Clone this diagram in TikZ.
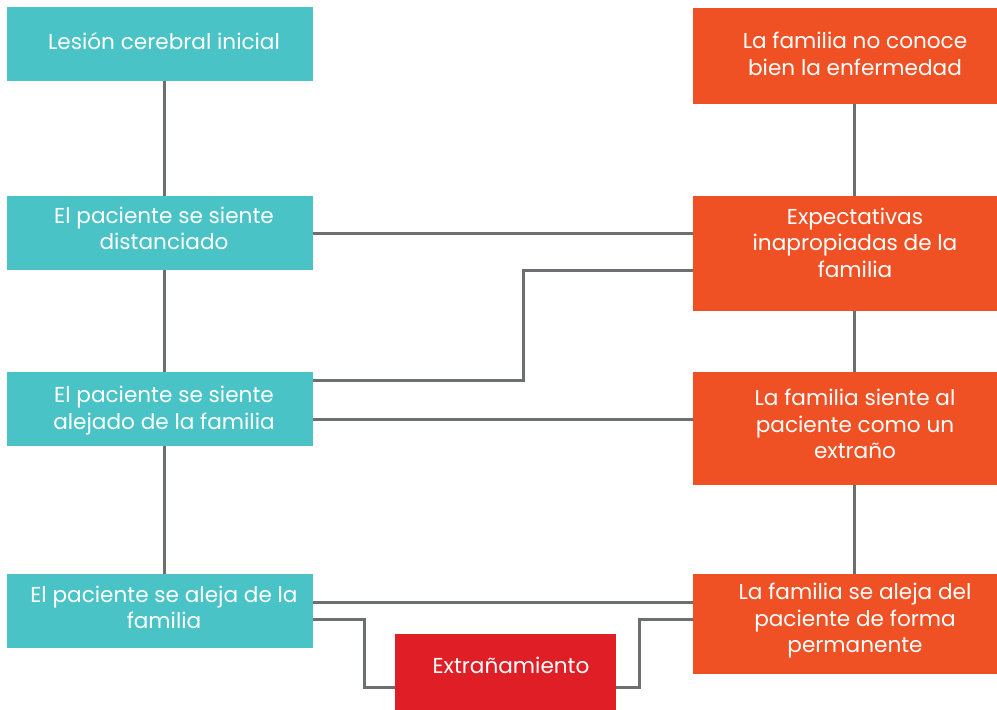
\documentclass[tikz,border=0pt]{standalone}
\usepackage{fontspec}
\setmainfont{Poppins}
\usetikzlibrary{calc}
\definecolor{tealc}{HTML}{4AC3C7}
\definecolor{orangec}{HTML}{EF5125}
\definecolor{redc}{HTML}{E01E26}
\definecolor{linec}{HTML}{6D6E71}
\tikzset{
  boxbase/.style={draw=none, inner sep=0pt, outer sep=0pt, anchor=north west},
  tealbox/.style={boxbase, fill=tealc, minimum width=306pt},
  orangebox/.style={boxbase, fill=orangec, minimum width=322pt},
  redbox/.style={boxbase, fill=redc, minimum width=221pt},
  txt/.style={text=white, align=center, inner sep=0pt, font=\fontsize{21.6}{26.5}\selectfont},
  conn/.style={draw=linec, line width=3pt}
}
\begin{document}
\begin{tikzpicture}[x=1pt,y=-1pt]
\useasboundingbox (0,0) rectangle (997,710);
% left column
\node[tealbox, minimum height=74pt] (b1) at (7,7) {};
\node[tealbox, minimum height=74pt] (b2) at (7,196) {};
\node[tealbox, minimum height=74pt] (b3) at (7,372) {};
\node[tealbox, minimum height=74pt] (b4) at (7,574) {};
% right column
\node[orangebox, minimum height=96pt] (r1) at (693,8) {};
\node[orangebox, minimum height=115pt] (r2) at (693,196) {};
\node[orangebox, minimum height=113pt] (r3) at (693,372) {};
\node[orangebox, minimum height=100pt] (r4) at (693,574) {};
% centre
\node[redbox, minimum height=80pt] (c1) at (395,634) {};
% connectors
\draw[conn] (b1.south -| 164,0) -- (b2.north -| 164,0);
\draw[conn] (b2.south -| 164,0) -- (b3.north -| 164,0);
\draw[conn] (b3.south -| 164,0) -- (b4.north -| 164,0);
\draw[conn] (r1.south) -- (r2.north);
\draw[conn] (r2.south) -- (r3.north);
\draw[conn] (r3.south) -- (r4.north);
\draw[conn] (b2.east) -- (b2.east -| r2.west);
\draw[conn] ($(b3.north east)+(0,8)$) -| ($(r2.north west)+(-170,74)$) -- ($(r2.north west)+(0,74)$);
\draw[conn] ($(b3.north east)+(0,47)$) -- ($(r3.north west)+(0,47)$);
\draw[conn] ($(b4.north east)+(0,28)$) -- ($(r4.north west)+(0,28)$);
\draw[conn] ($(b4.north east)+(0,45)$) -| ($(c1.north west)+(-31,53)$) -- ($(c1.north west)+(0,53)$);
\draw[conn] ($(c1.north east)+(0,53)$) -| ($(r4.north west)+(-54,45)$) -- ($(r4.north west)+(0,45)$);
% texts
\node[txt] (t1) at (164,41.5) {Lesión cerebral inicial};
\node[txt] (t2) at (164,228.5) {El paciente se siente\\distanciado};
\node[txt] (t3) at (164,410.5) {El paciente se siente\\alejado de la familia};
\node[txt] (t4) at (164,607.5) {El paciente se aleja de la\\familia};
\node[txt] (s1) at (855,54) {La familia no conoce\\bien la enfermedad};
\node[txt] (s2) at (855,242.5) {Expectativas\\inapropiadas de la\\familia};
\node[txt] (s3) at (855,424) {La familia siente al\\paciente como un\\extraño};
\node[txt] (s4) at (855,621) {La familia se aleja del\\paciente de forma\\permanente};
\node[txt] (u1) at (511,665) {Extrañamiento};
\end{tikzpicture}
\end{document}
